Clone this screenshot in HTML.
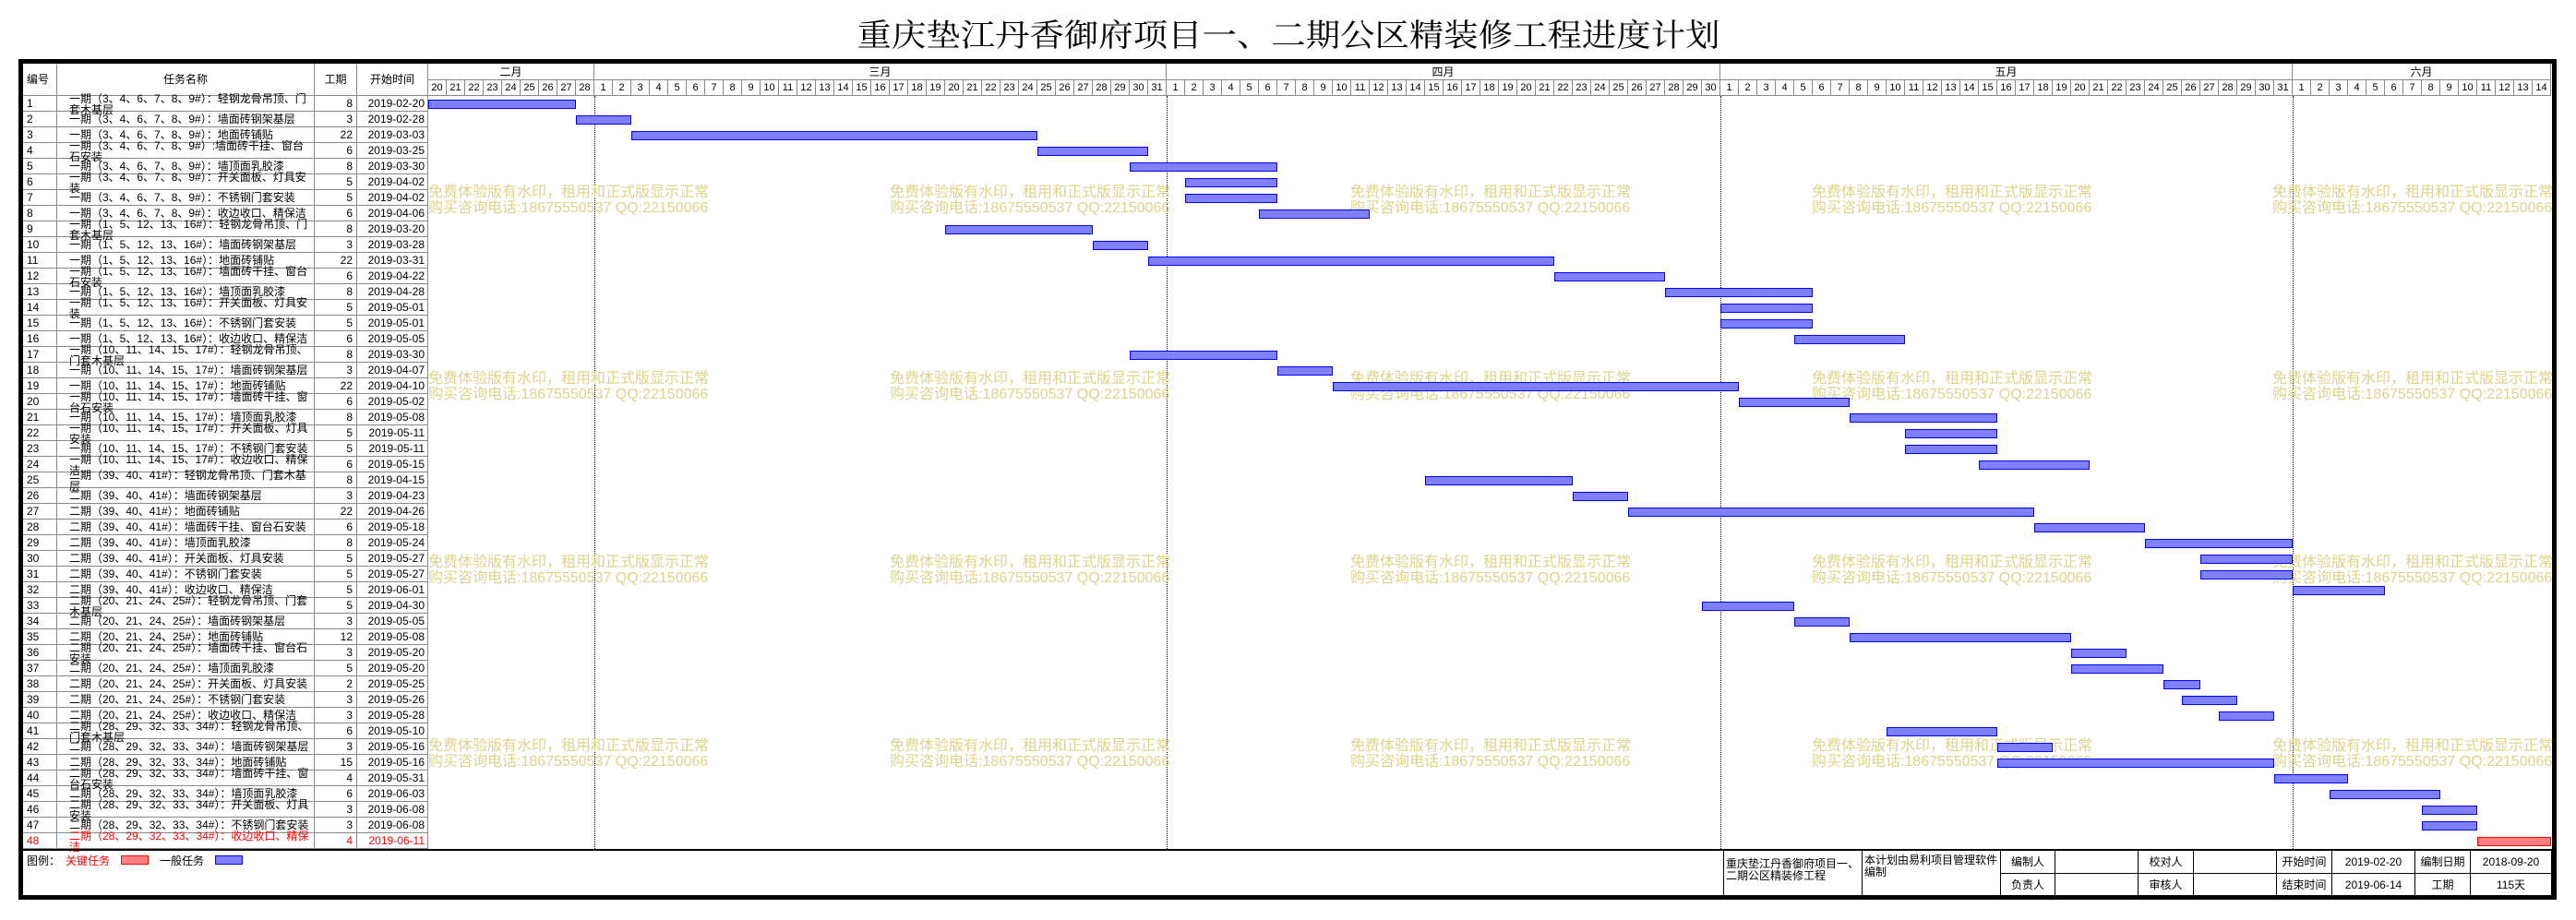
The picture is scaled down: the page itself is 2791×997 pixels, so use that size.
<!DOCTYPE html>
<html><head><meta charset="utf-8">
<style>
*{margin:0;padding:0;box-sizing:border-box}
body{width:2791px;height:997px;background:#fff;position:relative;overflow:hidden;font-family:"Liberation Sans","Noto Sans CJK SC",sans-serif;font-size:12px;color:#000}
.abs{position:absolute}
#title{left:0;width:2791px;top:18px;text-align:center;font-family:"Liberation Serif","Noto Serif CJK SC",serif;font-weight:normal;font-size:34px;line-height:44px}
#title span{display:inline-block;transform:scaleX(1.1)}
#frame{left:20px;top:64px;width:2750px;height:911px;border:5px solid #000}
.hd{position:absolute;top:69px;height:35px;border-right:1px solid #888;border-bottom:1px solid #888;line-height:35px;text-align:center}
#rows{position:absolute;left:25px;top:104px;width:439px}
.r{height:17px;border-bottom:1px solid #888;display:flex;line-height:17px;white-space:nowrap}
.c1{width:37px;border-right:1px solid #888;padding-left:4px}
.c2{width:279px;border-right:1px solid #888;padding-left:13px;overflow:visible}
.c2.w{line-height:12px;padding-top:0}
.c2.w span{display:block;margin-top:-3px}
.c3{width:46px;border-right:1px solid #888;text-align:right;padding-right:4px}
.c4{width:77px;border-right:1px solid #888;text-align:right;padding-right:3px}
.red{color:#f00}
#months{position:absolute;left:464px;top:69px;height:18px;display:flex;border-bottom:1px solid #888}
#months div{border-right:1px solid #888;text-align:center;line-height:18px;font-size:12px}
#days{position:absolute;left:464px;top:87px;height:17px;display:flex;border-bottom:1px solid #888}
#days span{width:20px;border-right:1px solid #888;text-align:center;line-height:17px;font-size:11px}
.vl{position:absolute;top:104px;height:816px;border-left:1px dotted #000;width:0}
.bar{position:absolute;height:10px;border:1px solid #00f;background:#8080ff}
.bar.k{border-color:#f00;background:#ff8080}
.wm{position:absolute;color:#ddd48a;font-size:16px;line-height:17px;white-space:nowrap}
#ft{position:absolute;left:25px;top:920px;width:2740px;height:2px;background:#000}
.fc{position:absolute;border-right:1px solid #000;border-bottom:1px solid #000;text-align:center;font-size:12px}
</style></head><body>
<div id="title" class="abs"><span>重庆垫江丹香御府项目一、二期公区精装修工程进度计划</span></div>
<div id="frame" class="abs"></div>

<div class="hd" style="left:25px;width:37px;text-align:left;padding-left:4px">编号</div>
<div class="hd" style="left:62px;width:279px">任务名称</div>
<div class="hd" style="left:341px;width:46px">工期</div>
<div class="hd" style="left:387px;width:77px">开始时间</div>

<div id="months">
<div style="width:180px">二月</div>
<div style="width:620px">三月</div>
<div style="width:600px">四月</div>
<div style="width:620px">五月</div>
<div style="width:280px">六月</div>
</div>
<div id="days">
<span>20</span><span>21</span><span>22</span><span>23</span><span>24</span><span>25</span><span>26</span><span>27</span><span>28</span>
<span>1</span><span>2</span><span>3</span><span>4</span><span>5</span><span>6</span><span>7</span><span>8</span><span>9</span><span>10</span><span>11</span><span>12</span><span>13</span><span>14</span><span>15</span><span>16</span><span>17</span><span>18</span><span>19</span><span>20</span><span>21</span><span>22</span><span>23</span><span>24</span><span>25</span><span>26</span><span>27</span><span>28</span><span>29</span><span>30</span><span>31</span>
<span>1</span><span>2</span><span>3</span><span>4</span><span>5</span><span>6</span><span>7</span><span>8</span><span>9</span><span>10</span><span>11</span><span>12</span><span>13</span><span>14</span><span>15</span><span>16</span><span>17</span><span>18</span><span>19</span><span>20</span><span>21</span><span>22</span><span>23</span><span>24</span><span>25</span><span>26</span><span>27</span><span>28</span><span>29</span><span>30</span>
<span>1</span><span>2</span><span>3</span><span>4</span><span>5</span><span>6</span><span>7</span><span>8</span><span>9</span><span>10</span><span>11</span><span>12</span><span>13</span><span>14</span><span>15</span><span>16</span><span>17</span><span>18</span><span>19</span><span>20</span><span>21</span><span>22</span><span>23</span><span>24</span><span>25</span><span>26</span><span>27</span><span>28</span><span>29</span><span>30</span><span>31</span>
<span>1</span><span>2</span><span>3</span><span>4</span><span>5</span><span>6</span><span>7</span><span>8</span><span>9</span><span>10</span><span>11</span><span>12</span><span>13</span><span>14</span>
</div>

<div class="vl" style="left:644px"></div>
<div class="vl" style="left:1264px"></div>
<div class="vl" style="left:1864px"></div>
<div class="vl" style="left:2484px"></div>

<div class="wm" style="left:464px;top:200px">免费体验版有水印，租用和正式版显示正常<br>购买咨询电话:18675550537 QQ:22150066</div>
<div class="wm" style="left:964px;top:200px">免费体验版有水印，租用和正式版显示正常<br>购买咨询电话:18675550537 QQ:22150066</div>
<div class="wm" style="left:1463px;top:200px">免费体验版有水印，租用和正式版显示正常<br>购买咨询电话:18675550537 QQ:22150066</div>
<div class="wm" style="left:1963px;top:200px">免费体验版有水印，租用和正式版显示正常<br>购买咨询电话:18675550537 QQ:22150066</div>
<div class="wm" style="left:2462px;top:200px">免费体验版有水印，租用和正式版显示正常<br>购买咨询电话:18675550537 QQ:22150066</div>
<div class="wm" style="left:464px;top:402px">免费体验版有水印，租用和正式版显示正常<br>购买咨询电话:18675550537 QQ:22150066</div>
<div class="wm" style="left:964px;top:402px">免费体验版有水印，租用和正式版显示正常<br>购买咨询电话:18675550537 QQ:22150066</div>
<div class="wm" style="left:1463px;top:402px">免费体验版有水印，租用和正式版显示正常<br>购买咨询电话:18675550537 QQ:22150066</div>
<div class="wm" style="left:1963px;top:402px">免费体验版有水印，租用和正式版显示正常<br>购买咨询电话:18675550537 QQ:22150066</div>
<div class="wm" style="left:2462px;top:402px">免费体验版有水印，租用和正式版显示正常<br>购买咨询电话:18675550537 QQ:22150066</div>
<div class="wm" style="left:464px;top:601px">免费体验版有水印，租用和正式版显示正常<br>购买咨询电话:18675550537 QQ:22150066</div>
<div class="wm" style="left:964px;top:601px">免费体验版有水印，租用和正式版显示正常<br>购买咨询电话:18675550537 QQ:22150066</div>
<div class="wm" style="left:1463px;top:601px">免费体验版有水印，租用和正式版显示正常<br>购买咨询电话:18675550537 QQ:22150066</div>
<div class="wm" style="left:1963px;top:601px">免费体验版有水印，租用和正式版显示正常<br>购买咨询电话:18675550537 QQ:22150066</div>
<div class="wm" style="left:2462px;top:601px">免费体验版有水印，租用和正式版显示正常<br>购买咨询电话:18675550537 QQ:22150066</div>
<div class="wm" style="left:464px;top:800px">免费体验版有水印，租用和正式版显示正常<br>购买咨询电话:18675550537 QQ:22150066</div>
<div class="wm" style="left:964px;top:800px">免费体验版有水印，租用和正式版显示正常<br>购买咨询电话:18675550537 QQ:22150066</div>
<div class="wm" style="left:1463px;top:800px">免费体验版有水印，租用和正式版显示正常<br>购买咨询电话:18675550537 QQ:22150066</div>
<div class="wm" style="left:1963px;top:800px">免费体验版有水印，租用和正式版显示正常<br>购买咨询电话:18675550537 QQ:22150066</div>
<div class="wm" style="left:2462px;top:800px">免费体验版有水印，租用和正式版显示正常<br>购买咨询电话:18675550537 QQ:22150066</div>

<div id="rows">
<div class="r"><div class="c1">1</div><div class="c2 w"><span>一期（3、4、6、7、8、9#）：轻钢龙骨吊顶、门<br>套木基层</span></div><div class="c3">8</div><div class="c4">2019-02-20</div></div>
<div class="r"><div class="c1">2</div><div class="c2">一期（3、4、6、7、8、9#）：墙面砖钢架基层</div><div class="c3">3</div><div class="c4">2019-02-28</div></div>
<div class="r"><div class="c1">3</div><div class="c2">一期（3、4、6、7、8、9#）：地面砖铺贴</div><div class="c3">22</div><div class="c4">2019-03-03</div></div>
<div class="r"><div class="c1">4</div><div class="c2 w"><span>一期（3、4、6、7、8、9#）:墙面砖干挂、窗台<br>石安装</span></div><div class="c3">6</div><div class="c4">2019-03-25</div></div>
<div class="r"><div class="c1">5</div><div class="c2">一期（3、4、6、7、8、9#）：墙顶面乳胶漆</div><div class="c3">8</div><div class="c4">2019-03-30</div></div>
<div class="r"><div class="c1">6</div><div class="c2 w"><span>一期（3、4、6、7、8、9#）：开关面板、灯具安<br>装</span></div><div class="c3">5</div><div class="c4">2019-04-02</div></div>
<div class="r"><div class="c1">7</div><div class="c2">一期（3、4、6、7、8、9#）：不锈钢门套安装</div><div class="c3">5</div><div class="c4">2019-04-02</div></div>
<div class="r"><div class="c1">8</div><div class="c2">一期（3、4、6、7、8、9#）：收边收口、精保洁</div><div class="c3">6</div><div class="c4">2019-04-06</div></div>
<div class="r"><div class="c1">9</div><div class="c2 w"><span>一期（1、5、12、13、16#）：轻钢龙骨吊顶、门<br>套木基层</span></div><div class="c3">8</div><div class="c4">2019-03-20</div></div>
<div class="r"><div class="c1">10</div><div class="c2">一期（1、5、12、13、16#）：墙面砖钢架基层</div><div class="c3">3</div><div class="c4">2019-03-28</div></div>
<div class="r"><div class="c1">11</div><div class="c2">一期（1、5、12、13、16#）：地面砖铺贴</div><div class="c3">22</div><div class="c4">2019-03-31</div></div>
<div class="r"><div class="c1">12</div><div class="c2 w"><span>一期（1、5、12、13、16#）：墙面砖干挂、窗台<br>石安装</span></div><div class="c3">6</div><div class="c4">2019-04-22</div></div>
<div class="r"><div class="c1">13</div><div class="c2">一期（1、5、12、13、16#）：墙顶面乳胶漆</div><div class="c3">8</div><div class="c4">2019-04-28</div></div>
<div class="r"><div class="c1">14</div><div class="c2 w"><span>一期（1、5、12、13、16#）：开关面板、灯具安<br>装</span></div><div class="c3">5</div><div class="c4">2019-05-01</div></div>
<div class="r"><div class="c1">15</div><div class="c2">一期（1、5、12、13、16#）：不锈钢门套安装</div><div class="c3">5</div><div class="c4">2019-05-01</div></div>
<div class="r"><div class="c1">16</div><div class="c2">一期（1、5、12、13、16#）：收边收口、精保洁</div><div class="c3">6</div><div class="c4">2019-05-05</div></div>
<div class="r"><div class="c1">17</div><div class="c2 w"><span>一期（10、11、14、15、17#）：轻钢龙骨吊顶、<br>门套木基层</span></div><div class="c3">8</div><div class="c4">2019-03-30</div></div>
<div class="r"><div class="c1">18</div><div class="c2">一期（10、11、14、15、17#）：墙面砖钢架基层</div><div class="c3">3</div><div class="c4">2019-04-07</div></div>
<div class="r"><div class="c1">19</div><div class="c2">一期（10、11、14、15、17#）：地面砖铺贴</div><div class="c3">22</div><div class="c4">2019-04-10</div></div>
<div class="r"><div class="c1">20</div><div class="c2 w"><span>一期（10、11、14、15、17#）：墙面砖干挂、窗<br>台石安装</span></div><div class="c3">6</div><div class="c4">2019-05-02</div></div>
<div class="r"><div class="c1">21</div><div class="c2">一期（10、11、14、15、17#）：墙顶面乳胶漆</div><div class="c3">8</div><div class="c4">2019-05-08</div></div>
<div class="r"><div class="c1">22</div><div class="c2 w"><span>一期（10、11、14、15、17#）：开关面板、灯具<br>安装</span></div><div class="c3">5</div><div class="c4">2019-05-11</div></div>
<div class="r"><div class="c1">23</div><div class="c2">一期（10、11、14、15、17#）：不锈钢门套安装</div><div class="c3">5</div><div class="c4">2019-05-11</div></div>
<div class="r"><div class="c1">24</div><div class="c2 w"><span>一期（10、11、14、15、17#）：收边收口、精保<br>洁</span></div><div class="c3">6</div><div class="c4">2019-05-15</div></div>
<div class="r"><div class="c1">25</div><div class="c2 w"><span>二期（39、40、41#）：轻钢龙骨吊顶、门套木基<br>层</span></div><div class="c3">8</div><div class="c4">2019-04-15</div></div>
<div class="r"><div class="c1">26</div><div class="c2">二期（39、40、41#）：墙面砖钢架基层</div><div class="c3">3</div><div class="c4">2019-04-23</div></div>
<div class="r"><div class="c1">27</div><div class="c2">二期（39、40、41#）：地面砖铺贴</div><div class="c3">22</div><div class="c4">2019-04-26</div></div>
<div class="r"><div class="c1">28</div><div class="c2">二期（39、40、41#）：墙面砖干挂、窗台石安装</div><div class="c3">6</div><div class="c4">2019-05-18</div></div>
<div class="r"><div class="c1">29</div><div class="c2">二期（39、40、41#）：墙顶面乳胶漆</div><div class="c3">8</div><div class="c4">2019-05-24</div></div>
<div class="r"><div class="c1">30</div><div class="c2">二期（39、40、41#）：开关面板、灯具安装</div><div class="c3">5</div><div class="c4">2019-05-27</div></div>
<div class="r"><div class="c1">31</div><div class="c2">二期（39、40、41#）：不锈钢门套安装</div><div class="c3">5</div><div class="c4">2019-05-27</div></div>
<div class="r"><div class="c1">32</div><div class="c2">二期（39、40、41#）：收边收口、精保洁</div><div class="c3">5</div><div class="c4">2019-06-01</div></div>
<div class="r"><div class="c1">33</div><div class="c2 w"><span>二期（20、21、24、25#）：轻钢龙骨吊顶、门套<br>木基层</span></div><div class="c3">5</div><div class="c4">2019-04-30</div></div>
<div class="r"><div class="c1">34</div><div class="c2">二期（20、21、24、25#）：墙面砖钢架基层</div><div class="c3">3</div><div class="c4">2019-05-05</div></div>
<div class="r"><div class="c1">35</div><div class="c2">二期（20、21、24、25#）：地面砖铺贴</div><div class="c3">12</div><div class="c4">2019-05-08</div></div>
<div class="r"><div class="c1">36</div><div class="c2 w"><span>二期（20、21、24、25#）：墙面砖干挂、窗台石<br>安装</span></div><div class="c3">3</div><div class="c4">2019-05-20</div></div>
<div class="r"><div class="c1">37</div><div class="c2">二期（20、21、24、25#）：墙顶面乳胶漆</div><div class="c3">5</div><div class="c4">2019-05-20</div></div>
<div class="r"><div class="c1">38</div><div class="c2">二期（20、21、24、25#）：开关面板、灯具安装</div><div class="c3">2</div><div class="c4">2019-05-25</div></div>
<div class="r"><div class="c1">39</div><div class="c2">二期（20、21、24、25#）：不锈钢门套安装</div><div class="c3">3</div><div class="c4">2019-05-26</div></div>
<div class="r"><div class="c1">40</div><div class="c2">二期（20、21、24、25#）：收边收口、精保洁</div><div class="c3">3</div><div class="c4">2019-05-28</div></div>
<div class="r"><div class="c1">41</div><div class="c2 w"><span>二期（28、29、32、33、34#）：轻钢龙骨吊顶、<br>门套木基层</span></div><div class="c3">6</div><div class="c4">2019-05-10</div></div>
<div class="r"><div class="c1">42</div><div class="c2">二期（28、29、32、33、34#）：墙面砖钢架基层</div><div class="c3">3</div><div class="c4">2019-05-16</div></div>
<div class="r"><div class="c1">43</div><div class="c2">二期（28、29、32、33、34#）：地面砖铺贴</div><div class="c3">15</div><div class="c4">2019-05-16</div></div>
<div class="r"><div class="c1">44</div><div class="c2 w"><span>二期（28、29、32、33、34#）：墙面砖干挂、窗<br>台石安装</span></div><div class="c3">4</div><div class="c4">2019-05-31</div></div>
<div class="r"><div class="c1">45</div><div class="c2">二期（28、29、32、33、34#）：墙顶面乳胶漆</div><div class="c3">6</div><div class="c4">2019-06-03</div></div>
<div class="r"><div class="c1">46</div><div class="c2 w"><span>二期（28、29、32、33、34#）：开关面板、灯具<br>安装</span></div><div class="c3">3</div><div class="c4">2019-06-08</div></div>
<div class="r"><div class="c1">47</div><div class="c2">二期（28、29、32、33、34#）：不锈钢门套安装</div><div class="c3">3</div><div class="c4">2019-06-08</div></div>
<div class="r red"><div class="c1">48</div><div class="c2 w"><span>二期（28、29、32、33、34#）：收边收口、精保<br>洁</span></div><div class="c3">4</div><div class="c4">2019-06-11</div></div>
</div>

<div class="bar" style="left:464px;top:108px;width:160px"></div>
<div class="bar" style="left:624px;top:125px;width:60px"></div>
<div class="bar" style="left:684px;top:142px;width:440px"></div>
<div class="bar" style="left:1124px;top:159px;width:120px"></div>
<div class="bar" style="left:1224px;top:176px;width:160px"></div>
<div class="bar" style="left:1284px;top:193px;width:100px"></div>
<div class="bar" style="left:1284px;top:210px;width:100px"></div>
<div class="bar" style="left:1364px;top:227px;width:120px"></div>
<div class="bar" style="left:1024px;top:244px;width:160px"></div>
<div class="bar" style="left:1184px;top:261px;width:60px"></div>
<div class="bar" style="left:1244px;top:278px;width:440px"></div>
<div class="bar" style="left:1684px;top:295px;width:120px"></div>
<div class="bar" style="left:1804px;top:312px;width:160px"></div>
<div class="bar" style="left:1864px;top:329px;width:100px"></div>
<div class="bar" style="left:1864px;top:346px;width:100px"></div>
<div class="bar" style="left:1944px;top:363px;width:120px"></div>
<div class="bar" style="left:1224px;top:380px;width:160px"></div>
<div class="bar" style="left:1384px;top:397px;width:60px"></div>
<div class="bar" style="left:1444px;top:414px;width:440px"></div>
<div class="bar" style="left:1884px;top:431px;width:120px"></div>
<div class="bar" style="left:2004px;top:448px;width:160px"></div>
<div class="bar" style="left:2064px;top:465px;width:100px"></div>
<div class="bar" style="left:2064px;top:482px;width:100px"></div>
<div class="bar" style="left:2144px;top:499px;width:120px"></div>
<div class="bar" style="left:1544px;top:516px;width:160px"></div>
<div class="bar" style="left:1704px;top:533px;width:60px"></div>
<div class="bar" style="left:1764px;top:550px;width:440px"></div>
<div class="bar" style="left:2204px;top:567px;width:120px"></div>
<div class="bar" style="left:2324px;top:584px;width:160px"></div>
<div class="bar" style="left:2384px;top:601px;width:100px"></div>
<div class="bar" style="left:2384px;top:618px;width:100px"></div>
<div class="bar" style="left:2484px;top:635px;width:100px"></div>
<div class="bar" style="left:1844px;top:652px;width:100px"></div>
<div class="bar" style="left:1944px;top:669px;width:60px"></div>
<div class="bar" style="left:2004px;top:686px;width:240px"></div>
<div class="bar" style="left:2244px;top:703px;width:60px"></div>
<div class="bar" style="left:2244px;top:720px;width:100px"></div>
<div class="bar" style="left:2344px;top:737px;width:40px"></div>
<div class="bar" style="left:2364px;top:754px;width:60px"></div>
<div class="bar" style="left:2404px;top:771px;width:60px"></div>
<div class="bar" style="left:2044px;top:788px;width:120px"></div>
<div class="bar" style="left:2164px;top:805px;width:60px"></div>
<div class="bar" style="left:2164px;top:822px;width:300px"></div>
<div class="bar" style="left:2464px;top:839px;width:80px"></div>
<div class="bar" style="left:2524px;top:856px;width:120px"></div>
<div class="bar" style="left:2624px;top:873px;width:60px"></div>
<div class="bar" style="left:2624px;top:890px;width:60px"></div>
<div class="bar k" style="left:2684px;top:907px;width:80px"></div>

<div id="ft"></div>

<div class="abs" style="left:29px;top:926px;line-height:14px">图例：</div>
<div class="abs red" style="left:71px;top:926px;line-height:14px">关键任务</div>
<div class="abs" style="left:131px;top:927px;width:30px;height:10px;border:1px solid #f00;background:#ff8080"></div>
<div class="abs" style="left:173px;top:926px;line-height:14px">一般任务</div>
<div class="abs" style="left:233px;top:927px;width:30px;height:10px;border:1px solid #00f;background:#8080ff"></div>

<div class="abs" style="left:1867px;top:922px;width:1px;height:49px;background:#000"></div>
<div class="fc" style="left:1868px;top:922px;width:150px;height:49px;text-align:left;padding:8px 0 0 2px;line-height:13px">重庆垫江丹香御府项目一、<br>二期公区精装修工程</div>
<div class="fc" style="left:2018px;top:922px;width:150px;height:49px;text-align:left;padding:4px 0 0 2px;line-height:13px">本计划由易利项目管理软件<br>编制</div>
<div class="fc" style="left:2168px;top:922px;width:59px;height:25px;line-height:24px">编制人</div>
<div class="fc" style="left:2227px;top:922px;width:90px;height:25px"></div>
<div class="fc" style="left:2317px;top:922px;width:60px;height:25px;line-height:24px">校对人</div>
<div class="fc" style="left:2377px;top:922px;width:90px;height:25px"></div>
<div class="fc" style="left:2467px;top:922px;width:60px;height:25px;line-height:24px">开始时间</div>
<div class="fc" style="left:2527px;top:922px;width:90px;height:25px;line-height:24px">2019-02-20</div>
<div class="fc" style="left:2617px;top:922px;width:60px;height:25px;line-height:24px">编制日期</div>
<div class="fc" style="left:2677px;top:922px;width:88px;height:25px;line-height:24px">2018-09-20</div>
<div class="fc" style="left:2168px;top:947px;width:59px;height:24px;line-height:24px">负责人</div>
<div class="fc" style="left:2227px;top:947px;width:90px;height:24px"></div>
<div class="fc" style="left:2317px;top:947px;width:60px;height:24px;line-height:24px">审核人</div>
<div class="fc" style="left:2377px;top:947px;width:90px;height:24px"></div>
<div class="fc" style="left:2467px;top:947px;width:60px;height:24px;line-height:24px">结束时间</div>
<div class="fc" style="left:2527px;top:947px;width:90px;height:24px;line-height:24px">2019-06-14</div>
<div class="fc" style="left:2617px;top:947px;width:60px;height:24px;line-height:24px">工期</div>
<div class="fc" style="left:2677px;top:947px;width:88px;height:24px;line-height:24px">115天</div>
</body></html>
